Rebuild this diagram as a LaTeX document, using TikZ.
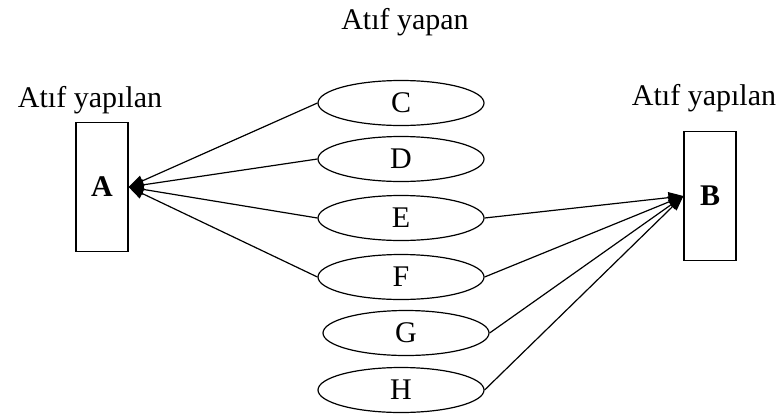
\documentclass[tikz,border=0pt]{standalone}
\usepackage{fontspec}
\setmainfont{Liberation Serif}
\usetikzlibrary{shapes.geometric, arrows.meta}

\begin{document}
\begin{tikzpicture}[x=1pt, y=-1pt, font=\fontsize{30}{36}\selectfont, line width=1.2pt,
        kaynak/.style={draw, rectangle, inner sep=0pt, minimum width=52pt, minimum height=129pt, font=\fontsize{30}{36}\selectfont\bfseries},
        yayin/.style={draw, ellipse, inner sep=0pt, minimum width=166pt, minimum height=45pt},
        atif/.style={-{Triangle[length=15pt,width=11pt]}}]
        \useasboundingbox (0,0) rectangle (783,415);
        \node (ust) at (405,22) {Atıf yapan};
        \node (sol) at (90,100) {Atıf yapılan};
        \node (sag) at (704,98) {Atıf yapılan};
        \node[kaynak] (a) at (102,187) {A};
        \node[kaynak] (b) at (710,196) {B};
        \node[yayin] (c) at (401,103) {C};
        \node[yayin] (d) at (401,159) {D};
        \node[yayin] (e) at (401,218) {E};
        \node[yayin] (f) at (401,277) {F};
        \node[yayin] (g) at (406,333) {G};
        \node[yayin] (h) at (401,390) {H};
        \draw[atif] (c.west) -- (a.east);
        \draw[atif] (d.west) -- (a.east);
        \draw[atif] (e.west) -- (a.east);
        \draw[atif] (f.west) -- (a.east);
        \draw[atif] (e.east) -- (b.west);
        \draw[atif] (f.east) -- (b.west);
        \draw[atif] (g.east) -- (b.west);
        \draw[atif] (h.east) -- (b.west);
    \end{tikzpicture}
\end{document}
